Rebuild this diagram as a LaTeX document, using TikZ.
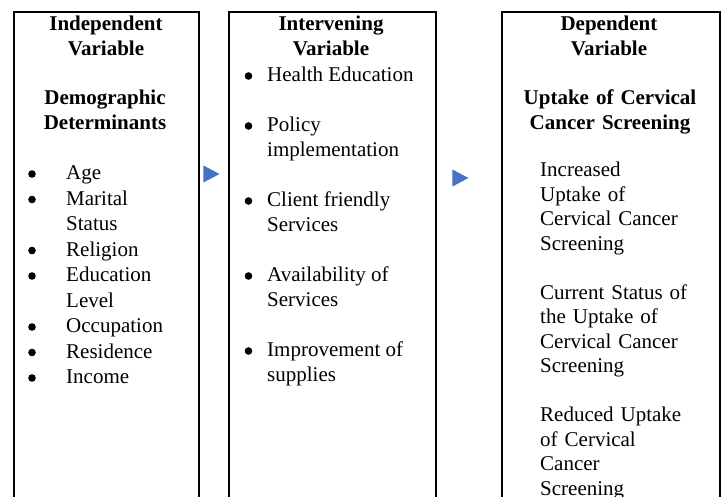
\documentclass[tikz,border=0pt]{standalone}
\usepackage{fontspec}
\setmainfont{Liberation Serif}
\usepackage{tikz}
\usepackage{xcolor}
\usetikzlibrary{shapes.geometric}
\definecolor{arrowblue}{RGB}{68,114,196}
\newcommand{\blt}{\tikz[baseline=0pt]\fill (0pt,6pt) circle (3.8pt);}

\begin{document}
\begin{tikzpicture}[x=1pt, y=-1pt,
  every node/.style={inner sep=0pt, font=\fontsize{21pt}{25pt}\selectfont},
  box/.style={draw, line width=2pt, anchor=north west, minimum height=520pt},
  head/.style={anchor=base, text width=190pt, align=center, font=\fontsize{21pt}{25pt}\selectfont\bfseries},
  pointer/.style={isosceles triangle, isosceles triangle stretches, fill=arrowblue, anchor=apex, minimum width=17pt, minimum height=16pt}]
\path[use as bounding box, clip] (0,0) rectangle (721,497);

\node[box, minimum width=185pt] (indep) at (13,11) {};
\node[box, minimum width=207pt] (interv) at (228,11) {};
\node[box, minimum width=218pt] (dep) at (501,11) {};

\node[pointer] (p1) at (220,174) {};
\node[pointer] (p2) at (469,178) {};

\node[head] (ivhead) at (106,31) {Independent\\Variable};
\node[head] (demo) at (105,105) {Demographic\\Determinants};
\node[head] (mvhead) at (331,31) {Intervening\\Variable};
\node[head] (dvhead) at (609,31) {Dependent\\Variable};
\node[head] (uptake) at (610,105) {Uptake of Cervical\\Cancer Screening};

\node[anchor=base west, font=\fontsize{21pt}{25.5pt}\selectfont] (demolist) at (28,180) {%
\begin{tabular}[t]{@{}p{38pt}@{}l@{}}
\blt & Age\\
\blt & Marital\\
 & Status\\
\blt & Religion\\
\blt & Education\\
 & Level\\
\blt & Occupation\\
\blt & Residence\\
\blt & Income
\end{tabular}};

\node[anchor=base west] (mvlist) at (244.5,82) {%
\begin{tabular}[t]{@{}p{22.5pt}@{}l@{}}
\blt & Health Education\\
 & \\
\blt & Policy\\
 & implementation\\
 & \\
\blt & Client friendly\\
 & Services\\
 & \\
\blt & Availability of\\
 & Services\\
 & \\
\blt & Improvement of\\
 & supplies
\end{tabular}};

\node[anchor=base west, text width=175pt, align=left, font=\fontsize{21pt}{24.5pt}\selectfont] (effects) at (540,177) {Increased\\Uptake of\\Cervical Cancer\\Screening\\[24.5pt]Current Status of\\the Uptake of\\Cervical Cancer\\Screening\\[24.5pt]Reduced Uptake\\of Cervical\\Cancer\\Screening};
\end{tikzpicture}
\end{document}
